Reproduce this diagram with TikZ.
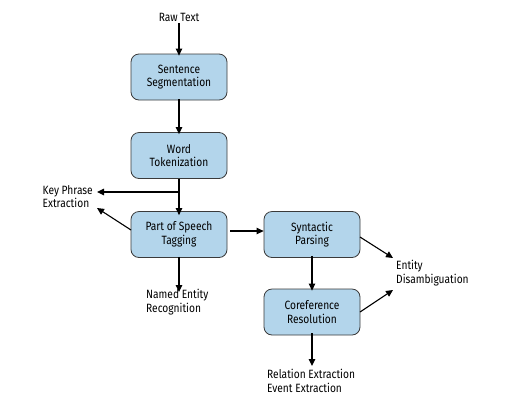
\documentclass[tikz,border=0pt]{standalone}
\usepackage{fontspec}
\setmainfont{Fira Sans}[FakeStretch=0.85]
\usetikzlibrary{arrows.meta}
\definecolor{boxfill}{HTML}{B3D5EB}
\definecolor{boxline}{HTML}{3A3A3A}
\tikzset{
  proc/.style={draw=boxline, line width=0.8pt, fill=boxfill, rounded corners=8pt,
    minimum width=96pt, minimum height=46pt, align=center, inner sep=0pt,
    font=\fontsize{12}{13.5}\selectfont},
  lbl/.style={align=left, inner sep=0pt, font=\fontsize{12}{13.5}\selectfont},
  arr/.style={-{Triangle[length=7pt,width=6.5pt]}, line width=1.1pt, black}
}
\begin{document}
\begin{tikzpicture}[x=1pt,y=-1pt]
\useasboundingbox (0,0) rectangle (508,400);
\node[lbl, align=center] (raw) at (179,17) {Raw Text};
\node[proc] (ss) at (179,77) {Sentence\\Segmentation};
\node[proc] (wt) at (179,155.5) {Word\\Tokenization};
\node[proc] (pos) at (179,234.5) {Part of Speech\\Tagging};
\node[proc] (syn) at (312,234.5) {Syntactic\\Parsing};
\node[proc] (cor) at (312,312) {Coreference\\Resolution};
\node[lbl, anchor=north east] (kp) at (93,185) {Key Phrase\\Extraction};
\node[lbl, anchor=north west] (ner) at (146,289) {Named Entity\\Recognition};
\node[lbl, anchor=north west] (ed) at (396,260) {Entity\\Disambiguation};
\node[lbl, anchor=north west] (re) at (267,369) {Relation Extraction\\Event Extraction};
\coordinate (br) at (179,192);
\coordinate (kpend) at (97,192);
\coordinate (kpend2) at (97,208);
\coordinate (edtop) at (393,258);
\coordinate (edbot) at (393,290);
\draw[arr] (raw.south) ++(0,2) -- ([yshift=-2pt]ss.north);
\draw[arr] ([yshift=1pt]ss.south) -- ([yshift=-2pt]wt.north);
\draw[arr] (wt.south) -- ([yshift=-4pt]pos.north);
\draw[arr] (br) -- (kpend);
\draw[arr] (131,230) -- (kpend2);
\draw[arr] ([yshift=1pt]pos.south) -- ([yshift=-3pt]ner.north -| pos.south);
\draw[arr] (230,231) -- (syn.west |- 0,231);
\draw[arr] ([yshift=2pt]syn.south) -- ([yshift=-2pt]cor.north);
\draw[arr] (360,237) -- (edtop);
\draw[arr] (360,312) -- (edbot);
\draw[arr] ([yshift=2pt]cor.south) -- (cor.south |- 0,366);
\end{tikzpicture}
\end{document}
